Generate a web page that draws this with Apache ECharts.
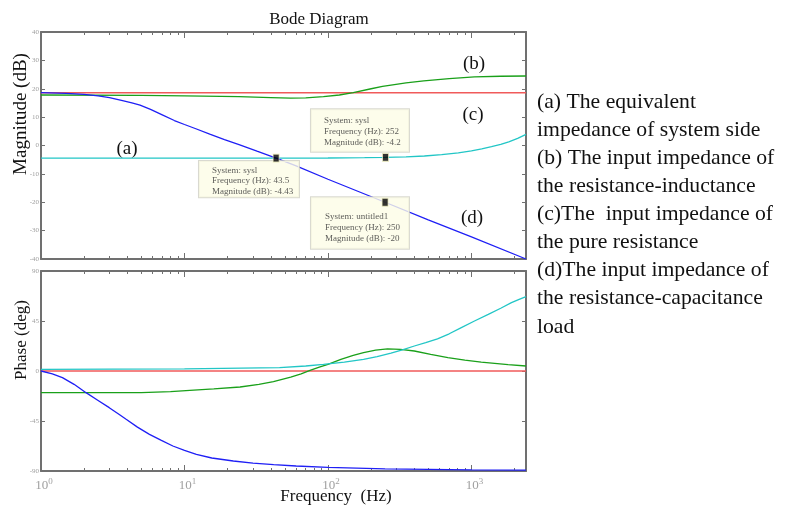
<!DOCTYPE html>
<html>
<head>
<meta charset="utf-8">
<script src="https://cdn.jsdelivr.net/npm/echarts@6/dist/echarts.min.js"></script>
<style>html,body{margin:0;padding:0;background:#fff}#c{width:787px;height:511px}</style>
</head>
<body>
<div id="c"></div>
<script>
// ---- data ----
var magA_f = [1, 2400];
var magA_v = [18.6, 18.6];
var magB_f = [1, 5, 10, 24, 40, 55, 70, 93, 120, 150, 200, 240, 275, 350, 465, 700, 1050, 1600, 2400];
var magB_v = [17.8, 17.7, 17.5, 17.2, 16.9, 16.7, 16.8, 17.2, 17.8, 18.6, 20.0, 20.8, 21.3, 22.1, 22.8, 23.6, 24.2, 24.4, 24.5];
var magC_f = [1, 100, 180, 252, 350, 470, 620, 810, 1000, 1180, 1380, 1600, 1820, 2100, 2400];
var magC_v = [-4.43, -4.4, -4.3, -4.2, -4.0, -3.7, -3.2, -2.6, -1.9, -1.2, -0.4, 0.4, 1.3, 2.5, 3.9];
var magD_f = [1, 1.5, 2, 2.5, 3, 3.7, 4.3, 4.9, 5.8, 7, 8.5, 10, 12, 15, 19, 24, 32, 43.5, 60, 100, 250, 500, 1000, 2400];
var magD_v = [18.6, 18.4, 18.0, 17.5, 16.9, 15.8, 15.0, 14.2, 12.7, 10.8, 8.8, 7.4, 5.9, 4.0, 2.1, 0.3, -2.0, -4.43, -7.2, -11.9, -20, -26.2, -32.2, -40];

var phA_f = [1, 2400];
var phA_v = [0, 0];
var phB_f = [1, 5, 8, 10.9, 16, 24.4, 33, 41.7, 55, 65, 75, 87, 100, 123, 150, 177, 215, 260, 320, 400, 520, 685, 900, 1170, 1800, 2400];
var phB_v = [-19.5, -19.4, -18.6, -17.4, -16, -14.4, -12, -9.5, -5.5, -2.5, 0.5, 3.5, 6, 10.5, 14, 16.5, 18.8, 20, 19.5, 18, 15, 12, 9.8, 8, 5.8, 4.5];
var phC_f = [1, 10, 46, 70, 93, 130, 177, 220, 275, 330, 400, 480, 580, 700, 850, 1050, 1310, 1600, 1900, 2150, 2400];
var phC_v = [1.5, 2, 3, 4.5, 6, 8, 10.5, 13, 16, 19, 22.5, 25.5, 29, 33.5, 39, 45, 51, 56.5, 61.5, 64.5, 67];
var phD_f = [1, 1.2, 1.41, 1.7, 2.06, 2.5, 2.99, 3.45, 3.92, 4.7, 5.7, 6.9, 8.3, 10, 12.1, 15.5, 21.9, 30, 41.8, 60, 100, 250, 1000, 2400];
var phD_v = [0, -2.5, -6, -12, -19.5, -26.5, -33, -38.5, -43.5, -50.5, -57, -62.5, -67.5, -71.5, -75, -78.3, -81, -83, -84.3, -85.5, -86.7, -88, -89, -89.2];

var tipF = [43.5, 252, 250];
var tipV = [-4.43, -4.2, -20];
var tipSys = ['sysl', 'sysl', 'untitled1'];

var majorTicks = [1, 10, 100, 1000];
var minorTicks = [2,3,4,5,6,7,8,9,20,30,40,50,60,70,80,90,200,300,400,500,600,700,800,900,2000];
var magTicks = {min: -40, max: 40, interval: 10};
var phTicks = {min: -90, max: 90, interval: 45};

function zip(f, v) { return f.map(function (x, i) { return [x, v[i]]; }); }

var SERIF = '"Liberation Serif", "Times New Roman", serif';
var AX = '#707070';
var LBL = '#a0a0a0';

function xAx(grid, pos, major, labels) {
  return {
    type: 'log', logBase: 10, min: 1, max: 2400, gridIndex: grid, position: pos,
    axisLine: {show: major, onZero: false, lineStyle: {color: AX, width: 2}},
    axisTick: {show: true, inside: true, length: major ? 6 : 3, customValues: major ? majorTicks : minorTicks,
               lineStyle: {color: AX, width: 1}},
    axisLabel: labels ? {
      show: true, customValues: majorTicks, margin: 6,
      formatter: function (v) { return '{b|10}{s|' + Math.round(Math.log10(v)) + '}'; },
      rich: {
        b: {fontSize: 13, fontFamily: SERIF, color: LBL, padding: [0, 0, 0, 6]},
        s: {fontSize: 9, fontFamily: SERIF, color: LBL, padding: [0, 0, 8, 0]}
      }
    } : {show: false},
    splitLine: {show: false}
  };
}
function yAx(grid, pos, t, labels) {
  return {
    type: 'value', gridIndex: grid, position: pos, min: t.min, max: t.max, interval: t.interval,
    axisLine: {show: true, onZero: false, lineStyle: {color: AX, width: 2}},
    axisTick: {show: true, inside: true, length: 4, lineStyle: {color: AX, width: 1}},
    axisLabel: labels ? {show: true, fontSize: 7, color: LBL, margin: 2, fontFamily: SERIF} : {show: false},
    splitLine: {show: false}
  };
}
function line(name, data, color, xi, yi, w) {
  return {
    type: 'line', name: name, data: data, xAxisIndex: xi, yAxisIndex: yi,
    showSymbol: false, smooth: false,
    lineStyle: {color: color, width: w || 1.3}, itemStyle: {color: color}, z: 3, animation: false
  };
}

var RED = '#f05a5a', GREEN = '#1aa01a', CYAN = '#22c6c6', BLUE = '#1f1ff5';

var boxPos = [[-76.6, 3.4], [-74.1, -47.6], [-73.6, -4.5]];
var boxPad = [[4, 0, 0.5, 13], [6, 0, 3.5, 13], [14, 0, 4.5, 14]];
var boxLH = [10.6, 11, 11];
var boxW = [87, 85, 84];

var tipBoxes = tipF.map(function (f, i) {
  return {
    value: [f, tipV[i]],
    label: {
      show: true, position: boxPos[i], align: 'left', verticalAlign: 'top',
      formatter: 'System: ' + tipSys[i] + '\nFrequency (Hz): ' + f + '\nMagnitude (dB): ' + tipV[i],
      backgroundColor: '#fdfde6', borderColor: '#cfcfc4', borderWidth: 1,
      padding: boxPad[i], width: boxW[i], lineHeight: boxLH[i], fontSize: 9,
      fontFamily: SERIF, color: '#333'
    }
  };
});
var tipPts = tipF.map(function (f, i) { return [f, tipV[i]]; });

var option = {
  animation: false,
  backgroundColor: '#fff',
  grid: [
    {left: 41, top: 32, width: 485, height: 227},
    {left: 41, top: 271, width: 485, height: 200}
  ],
  xAxis: [
    xAx(0, 'bottom', true, false), xAx(0, 'bottom', false, false),
    xAx(0, 'top', true, false), xAx(0, 'top', false, false),
    xAx(1, 'bottom', true, true), xAx(1, 'bottom', false, false),
    xAx(1, 'top', true, false), xAx(1, 'top', false, false)
  ],
  yAxis: [
    yAx(0, 'left', magTicks, true), yAx(0, 'right', magTicks, false),
    yAx(1, 'left', phTicks, true), yAx(1, 'right', phTicks, false)
  ],
  series: [
    line('a', zip(magA_f, magA_v), RED, 0, 0, 1.6),
    line('b', zip(magB_f, magB_v), GREEN, 0, 0),
    line('c', zip(magC_f, magC_v), CYAN, 0, 0),
    line('d', zip(magD_f, magD_v), BLUE, 0, 0),
    line('a', zip(phA_f, phA_v), RED, 4, 2, 1.6),
    line('b', zip(phB_f, phB_v), GREEN, 4, 2),
    line('c', zip(phC_f, phC_v), CYAN, 4, 2),
    line('d', zip(phD_f, phD_v), BLUE, 4, 2),
    {
      type: 'scatter', xAxisIndex: 0, yAxisIndex: 0, symbol: 'rect', symbolSize: 1,
      itemStyle: {color: 'rgba(0,0,0,0)'}, z: 10, silent: true,
      data: tipBoxes, animation: false
    },
    {
      type: 'scatter', xAxisIndex: 0, yAxisIndex: 0, symbol: 'rect', symbolSize: [6, 8],
      itemStyle: {color: '#000', borderColor: '#f4f4c8', borderWidth: 1}, z: 20,
      data: tipPts, animation: false
    }
  ],
  graphic: [
    {type: 'text', x: 319, y: 20, style: {text: 'Bode Diagram', font: '17px ' + SERIF, fill: '#111', align: 'center', verticalAlign: 'middle'}},
    {type: 'text', x: 21, y: 114, rotation: Math.PI / 2, style: {text: 'Magnitude (dB)', font: '19px ' + SERIF, fill: '#111', align: 'center', verticalAlign: 'middle'}},
    {type: 'text', x: 22, y: 340, rotation: Math.PI / 2, style: {text: 'Phase (deg)', font: '17px ' + SERIF, fill: '#111', align: 'center', verticalAlign: 'middle'}},
    {type: 'text', x: 336, y: 497, style: {text: 'Frequency  (Hz)', font: '17px ' + SERIF, fill: '#111', align: 'center', verticalAlign: 'middle'}},
    {type: 'text', x: 127, y: 149, style: {text: '(a)', font: '19px ' + SERIF, fill: '#111', align: 'center', verticalAlign: 'middle'}},
    {type: 'text', x: 474, y: 64, style: {text: '(b)', font: '19px ' + SERIF, fill: '#111', align: 'center', verticalAlign: 'middle'}},
    {type: 'text', x: 473, y: 115, style: {text: '(c)', font: '19px ' + SERIF, fill: '#111', align: 'center', verticalAlign: 'middle'}},
    {type: 'text', x: 472, y: 218, style: {text: '(d)', font: '19px ' + SERIF, fill: '#111', align: 'center', verticalAlign: 'middle'}},
    {type: 'text', x: 537, y: 88, style: {
      text: '(a) The equivalent\nimpedance of system side\n(b) The input impedance of\nthe resistance-inductance\n(c)The  input impedance of\nthe pure resistance\n(d)The input impedance of\nthe resistance-capacitance\nload',
      font: '21.7px ' + SERIF, lineHeight: 28.1, fill: '#111', align: 'left', verticalAlign: 'top'}}
  ]
};
var chart = echarts.init(document.getElementById('c'), null, {renderer: 'canvas'});
chart.setOption(option);
</script>
</body>
</html>
